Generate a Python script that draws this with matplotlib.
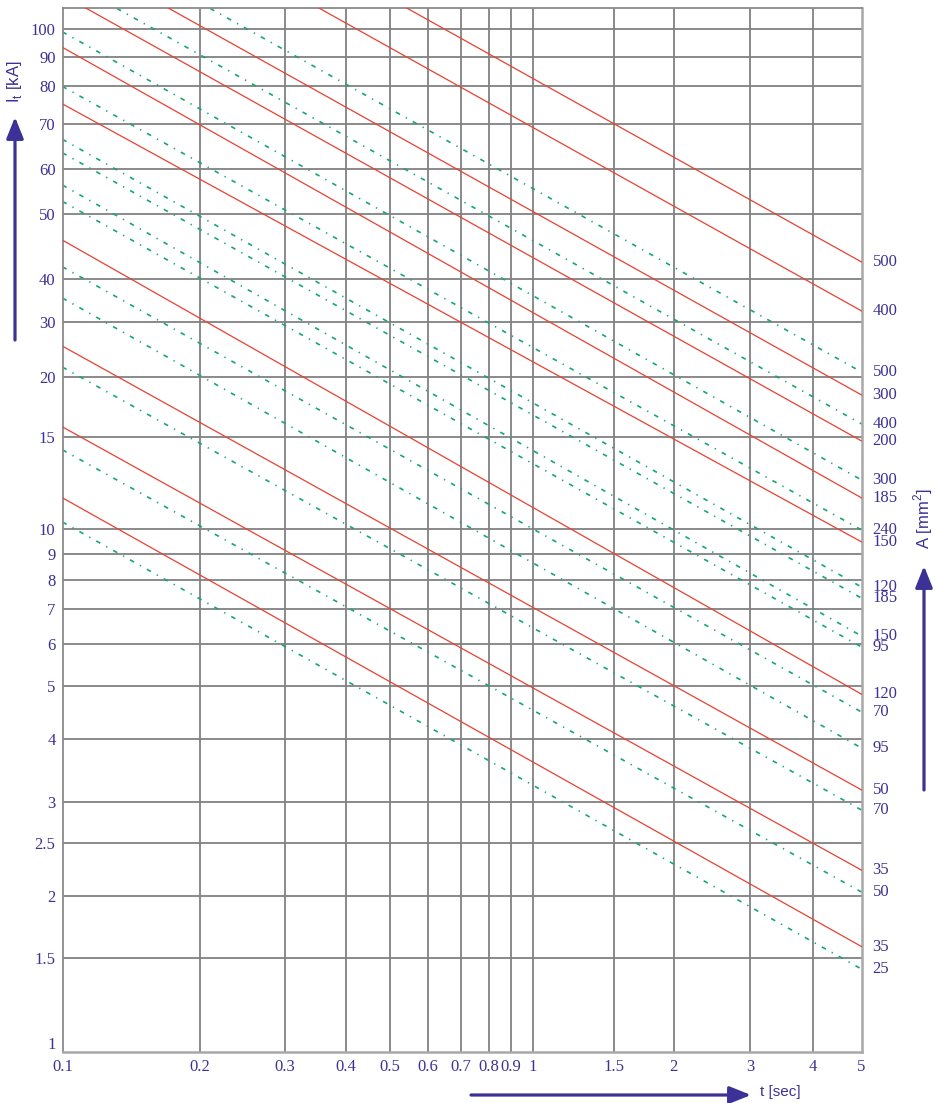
import matplotlib
matplotlib.use('Agg')
import matplotlib.pyplot as plt
import numpy as np

# ticks of the two axes
t_ticks = [0.1, 0.2, 0.3, 0.4, 0.5, 0.6, 0.7, 0.8, 0.9, 1, 1.5, 2, 3, 4, 5]
t_labels = ['0.1', '0.2', '0.3', '0.4', '0.5', '0.6', '0.7', '0.8', '0.9',
            '1', '1.5', '2', '3', '4', '5']
i_ticks = [1, 1.5, 2, 2.5, 3, 4, 5, 6, 7, 8, 9, 10, 15, 20, 30, 40, 50, 60,
           70, 80, 90, 100]
i_labels = ['1', '1.5', '2', '2.5', '3', '4', '5', '6', '7', '8', '9', '10',
            '15', '20', '30', '40', '50', '60', '70', '80', '90', '100']

# the printed grid is only roughly logarithmic: where each tick sits
# (pixels from the left edge / from the top of the sheet)
t_tick_px = [62.5, 200, 285, 346, 390, 428, 461, 488.5, 510.5, 532.5,
             614, 673.5, 750, 813, 861.5]
i_tick_px = [1043, 958, 896, 843, 802, 739, 686, 644, 609, 580, 554, 529,
             437, 377, 322, 279, 214, 169, 124, 86, 57, 29]

t_span = [0.1, 5]          # every line runs over the whole time range
i_limits = [0.958, 108.2]

# thermal short-circuit current I_t [kA] at t = 0.1 s and t = 5 s
red_sizes = ['500', '400', '300', '200', '185', '150', '120', '50', '35', '35']
red_ka_start = [223, 185.4, 135.1, 113.6, 93.3, 75.1, 45.7, 25.1, 15.74, 11.47]
red_ka_end = [42.4, 32.3, 18.35, 14.74, 11.47, 9.47, 4.83, 3.17, 2.23, 1.582]

green_sizes = ['500', '400', '300', '240', '120', '185', '150', '95', '70',
               '95', '70', '50', '25']
green_ka_start = [147.3, 121.1, 98.9, 79.86, 66.4, 63.4, 56.2, 52.6, 41.7,
                  35.2, 21.5, 14.17, 10.31]
green_ka_end = [20.75, 15.97, 12.41, 9.96, 7.745, 7.36, 6.216, 5.923, 4.482,
                3.839, 2.895, 2.034, 1.423]

BLUE = '#3b3196'
RED = '#e8412f'
GREEN = '#14a86e'
GRID = '#818181'
SERIF = 'Liberation Serif'
SANS = 'Liberation Sans'


def piecewise_log(vals, pos):
    # log axis that follows the printed tick positions, linear in log between them
    lv = np.log10(np.asarray(vals, float))
    pv = np.asarray(pos, float)

    def fwd(v):
        x = np.log10(np.clip(np.asarray(v, float), 1e-9, None))
        y = np.interp(x, lv, pv)
        y = np.where(x < lv[0], pv[0] + (x - lv[0]) * (pv[1] - pv[0]) / (lv[1] - lv[0]), y)
        y = np.where(x > lv[-1], pv[-1] + (x - lv[-1]) * (pv[-1] - pv[-2]) / (lv[-1] - lv[-2]), y)
        return y

    def inv(y):
        y = np.asarray(y, float)
        x = np.interp(y, pv, lv)
        x = np.where(y < pv[0], lv[0] + (y - pv[0]) * (lv[1] - lv[0]) / (pv[1] - pv[0]), x)
        x = np.where(y > pv[-1], lv[-1] + (y - pv[-1]) * (lv[-1] - lv[-2]) / (pv[-1] - pv[-2]), x)
        return 10 ** x

    return fwd, inv


fig = plt.figure(figsize=(9.35, 11.03), dpi=100)
ax = fig.add_axes([62.5 / 935, 51 / 1103, 799 / 935, 1044 / 1103])

ax.set_xscale('function', functions=piecewise_log(t_ticks, [p - 62.5 for p in t_tick_px]))
ax.set_yscale('function', functions=piecewise_log(i_ticks, [1052 - p for p in i_tick_px]))
ax.set_xlim(t_span)
ax.set_ylim(i_limits)

# grid (no line at I = 1, the frame does the outer edges)
for v in i_ticks[1:]:
    ax.axhline(v, color=GRID, lw=1.3, zorder=1)
for v in t_ticks[1:-1]:
    ax.axvline(v, color=GRID, lw=1.3, zorder=1)

for s, a, b in zip(red_sizes, red_ka_start, red_ka_end):
    ax.plot(t_span, [a, b], color=RED, lw=0.9, zorder=3)
    ax.annotate(s, xy=(t_span[1], b), xytext=(8, 0), textcoords='offset points',
                va='center', ha='left', color=BLUE, fontsize=12, family=SERIF,
                annotation_clip=False)

for s, a, b in zip(green_sizes, green_ka_start, green_ka_end):
    ax.plot(t_span, [a, b], color=GREEN, lw=1.2, ls=(0, (2.8, 4.0, 0.8, 4.0)), zorder=2)
    ax.annotate(s, xy=(t_span[1], b), xytext=(8, 0), textcoords='offset points',
                va='center', ha='left', color=BLUE, fontsize=12, family=SERIF,
                annotation_clip=False)

ax.set_xticks(t_ticks)
ax.set_xticklabels(t_labels)
ax.set_yticks(i_ticks)
ax.set_yticklabels(i_labels)
ax.xaxis.set_minor_locator(matplotlib.ticker.NullLocator())
ax.yaxis.set_minor_locator(matplotlib.ticker.NullLocator())
ax.tick_params(length=0, colors=BLUE, labelsize=12)
ax.tick_params(axis='x', pad=5)
ax.tick_params(axis='y', pad=5)
for lab in ax.get_xticklabels() + ax.get_yticklabels():
    lab.set_family(SERIF)

for side in ['left', 'top']:
    ax.spines[side].set_color('#8a8a8a')
    ax.spines[side].set_linewidth(1.3)
for side in ['right', 'bottom']:
    ax.spines[side].set_color('#a8a8a8')
    ax.spines[side].set_linewidth(1.8)

# axis titles with their arrows
arrow = dict(arrowstyle='-|>,head_length=0.65,head_width=0.26', mutation_scale=20,
             lw=2.3, color=BLUE, shrinkA=0, shrinkB=0)
ax.annotate('', xy=(15, 1103 - 117), xytext=(15, 1103 - 340), xycoords='figure pixels',
            textcoords='figure pixels', arrowprops=arrow, annotation_clip=False)
ax.annotate('', xy=(924, 1103 - 566), xytext=(924, 1103 - 790), xycoords='figure pixels',
            textcoords='figure pixels', arrowprops=arrow, annotation_clip=False)
ax.annotate('', xy=(751, 1103 - 1095), xytext=(471, 1103 - 1095), xycoords='figure pixels',
            textcoords='figure pixels', arrowprops=arrow, annotation_clip=False)

fig.text(15 / 935, 1 - 82 / 1103, r'I$_\mathregular{t}$ [kA]', rotation=90,
         ha='center', va='center', color=BLUE, fontsize=12, family=SANS)
fig.text(923 / 935, 1 - 519 / 1103, r'A [mm$^\mathregular{2}$]', rotation=90,
         ha='center', va='center', color=BLUE, fontsize=12, family=SANS)
fig.text(760 / 935, 1 - 1092 / 1103, 't [sec]', ha='left', va='center',
         color=BLUE, fontsize=11, family=SANS)

fig.savefig('out.png', dpi=100)
